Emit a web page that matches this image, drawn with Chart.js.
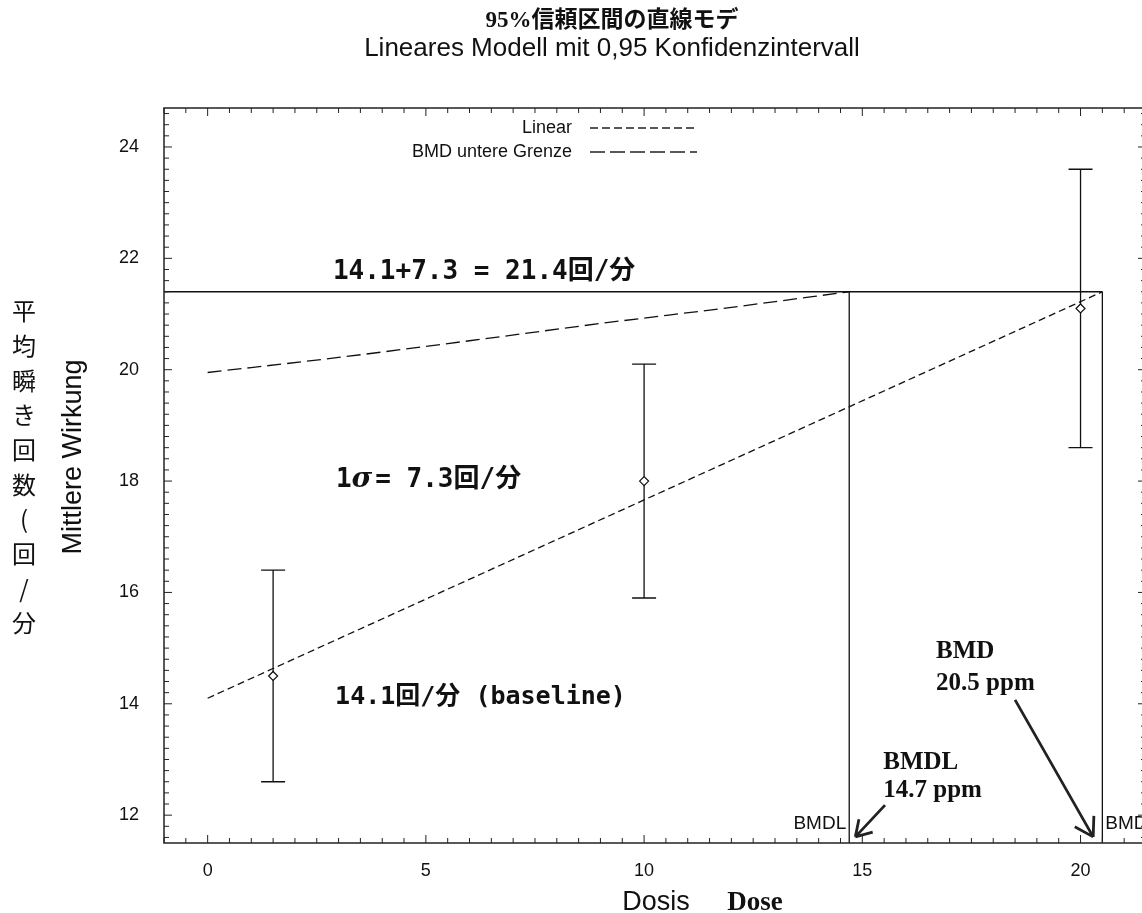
<!DOCTYPE html>
<html>
<head>
<meta charset="utf-8">
<script src="https://cdn.jsdelivr.net/npm/chart.js@4.4.0/dist/chart.umd.min.js"></script>
<style>
  html, body { margin: 0; padding: 0; background: #fff; overflow: hidden; }
  #wrap { position: absolute; left: 0; top: 0; width: 1160px; height: 913px; }
</style>
</head>
<body>
<div id="wrap"><canvas id="c" width="1160" height="913"></canvas></div>
<script>
// --- data ---
const doseMeans = [1.5, 10, 20];
const respMeans = [14.5, 18.0, 21.1];
const respLow   = [12.6, 15.9, 18.6];
const respHigh  = [16.4, 20.1, 23.6];

// linear fit
const linearX = [0, 20.5];
const linearY = [14.1, 21.4];

// BMD lower bound curve
const lowerX = [0, 3, 6, 9, 12, 14.7];
const lowerY = [19.95, 20.22, 20.52, 20.83, 21.12, 21.4];

const targetResp = 21.4;
const bmdDose = 20.5;
const bmdlDose = 14.7;

const xRange = [-1, 21.5];
const yRange = [11.5, 24.7];
const xTickValues = [0, 5, 10, 15, 20];
const yTickValues = [12, 14, 16, 18, 20, 22, 24];

const sans = '"Liberation Sans", Arial, sans-serif';
const serif = '"Liberation Serif", "Noto Sans CJK JP", serif';
const mono = '"DejaVu Sans Mono", "Noto Sans CJK JP", monospace';

const pts = (xs, ys) => xs.map((x, i) => ({ x: x, y: ys[i] }));

// frame, ticks, error bars, legend, texts
const decor = {
  id: 'decor',
  beforeDatasetsDraw(chart) {
    const ctx = chart.ctx, xs = chart.scales.x, ys = chart.scales.y;
    ctx.save();
    ctx.strokeStyle = '#111';
    ctx.lineWidth = 1.3;
    doseMeans.forEach((d, i) => {
      const px = xs.getPixelForValue(d);
      const lo = ys.getPixelForValue(respLow[i]);
      const hi = ys.getPixelForValue(respHigh[i]);
      ctx.beginPath();
      ctx.moveTo(px, lo); ctx.lineTo(px, hi);
      ctx.moveTo(px - 12, lo); ctx.lineTo(px + 12, lo);
      ctx.moveTo(px - 12, hi); ctx.lineTo(px + 12, hi);
      ctx.stroke();
    });
    ctx.restore();
  },
  afterDraw(chart) {
    const ctx = chart.ctx, xs = chart.scales.x, ys = chart.scales.y;
    const a = chart.chartArea;
    ctx.save();

    // frame
    ctx.strokeStyle = '#222';
    ctx.lineWidth = 1.5;
    ctx.strokeRect(a.left, a.top, a.right - a.left, a.bottom - a.top);

    // inward ticks on all four sides
    ctx.lineWidth = 1;
    ctx.beginPath();
    for (let v = -1; v <= 21.5 + 1e-6; v += 0.5) {
      const px = xs.getPixelForValue(v);
      const len = Math.abs(v % 5) < 1e-6 ? 8 : 5;
      ctx.moveTo(px, a.bottom); ctx.lineTo(px, a.bottom - len);
      ctx.moveTo(px, a.top); ctx.lineTo(px, a.top + len);
    }
    for (let k = 58; k <= 123; k++) {
      const py = ys.getPixelForValue(k / 5);
      const len = (k % 10 === 0) ? 8 : 5;
      ctx.moveTo(a.left, py); ctx.lineTo(a.left + len, py);
      ctx.moveTo(a.right, py); ctx.lineTo(a.right - len, py);
    }
    ctx.stroke();

    ctx.fillStyle = '#111';
    ctx.textBaseline = 'middle';

    // titles
    ctx.textAlign = 'center';
    ctx.font = 'bold 23px ' + serif;
    ctx.fillText('95%信頼区間の直線モデ', 612, 21);
    ctx.font = '26px ' + sans;
    ctx.fillText('Lineares Modell mit 0,95 Konfidenzintervall', 612, 49);

    // x axis title
    ctx.textBaseline = 'alphabetic';
    ctx.font = '27px ' + sans;
    ctx.fillText('Dosis', 656, 910);
    ctx.font = 'bold 27px ' + serif;
    ctx.fillText('Dose', 755, 910);
    ctx.textBaseline = 'middle';

    // y axis titles
    ctx.save();
    ctx.translate(74, 457);
    ctx.rotate(-Math.PI / 2);
    ctx.font = '27px ' + sans;
    ctx.fillText('Mittlere Wirkung', 0, 0);
    ctx.restore();
    ctx.font = '24px "Noto Sans CJK JP", sans-serif';
    Array.from('平均瞬き回数(回/分').forEach((ch, i) => {
      ctx.fillText(ch, 24, 311 + i * 34.7);
    });

    // legend
    ctx.textAlign = 'right';
    ctx.font = '18px ' + sans;
    ctx.fillText('Linear', 572, 128);
    ctx.fillText('BMD untere Grenze', 572, 152);
    ctx.lineWidth = 1.3;
    ctx.setLineDash([8, 4]);
    ctx.beginPath(); ctx.moveTo(590, 128); ctx.lineTo(697, 128); ctx.stroke();
    ctx.setLineDash([15, 5]);
    ctx.beginPath(); ctx.moveTo(590, 152); ctx.lineTo(697, 152); ctx.stroke();
    ctx.setLineDash([]);

    // annotations inside the plot
    const X = v => xs.getPixelForValue(v), Y = v => ys.getPixelForValue(v);
    ctx.textAlign = 'left';
    ctx.font = 'bold 26px ' + mono;
    ctx.fillText('14.1+7.3 = 21.4回/分', X(2.87), Y(21.75));
    ctx.font = 'bold 25px ' + mono;
    ctx.fillText('14.1回/分 (baseline)', X(2.92), Y(14.12));
    ctx.font = 'bold 26px ' + mono;
    let sx = X(2.94);
    const sy = Y(18.02);
    ctx.fillText('1', sx, sy);
    sx += ctx.measureText('1').width;
    ctx.font = 'italic bold 28px "DejaVu Serif", serif';
    ctx.fillText('σ', sx, sy);
    sx += ctx.measureText('σ').width + 3;
    ctx.font = 'bold 26px ' + mono;
    ctx.fillText('= 7.3回/分', sx, sy);

    ctx.font = 'bold 25px ' + serif;
    ctx.fillText('BMD', X(16.69), Y(14.93));
    ctx.fillText('20.5 ppm', X(16.69), Y(14.37));
    ctx.fillText('BMDL', X(15.48), Y(12.94));
    ctx.fillText('14.7 ppm', X(15.48), Y(12.45));

    ctx.font = '19px ' + sans;
    ctx.textAlign = 'right';
    ctx.fillText('BMDL', X(bmdlDose) - 3, Y(11.85));
    ctx.textAlign = 'left';
    ctx.fillText('BMD', X(bmdDose) + 3, Y(11.85));

    // arrows
    const arrow = (x1, y1, x2, y2, head) => {
      const p1 = [X(x1), Y(y1)], p2 = [X(x2), Y(y2)];
      const ang = Math.atan2(p2[1] - p1[1], p2[0] - p1[0]);
      ctx.lineWidth = 2.8;
      ctx.beginPath();
      ctx.moveTo(p1[0], p1[1]); ctx.lineTo(p2[0], p2[1]);
      [-0.55, 0.55].forEach(d => {
        ctx.moveTo(p2[0], p2[1]);
        ctx.lineTo(p2[0] - head * Math.cos(ang + d), p2[1] - head * Math.sin(ang + d));
      });
      ctx.stroke();
    };
    arrow(18.5, 14.07, 20.29, 11.61, 21);
    arrow(15.52, 12.18, 14.84, 11.61, 18);

    ctx.restore();
  }
};

new Chart(document.getElementById('c'), {
  type: 'scatter',
  data: {
    datasets: [
      {
        label: 'Mittelwerte',
        data: pts(doseMeans, respMeans),
        pointStyle: 'rectRot',
        pointRadius: 4.5,
        backgroundColor: '#fff',
        borderColor: '#111',
        borderWidth: 1.2
      },
      {
        label: 'Linear',
        data: pts(linearX, linearY),
        showLine: true,
        borderColor: '#111',
        borderWidth: 1.3,
        borderDash: [7, 4],
        pointRadius: 0
      },
      {
        label: 'BMD untere Grenze',
        data: pts(lowerX, lowerY),
        showLine: true,
        cubicInterpolationMode: 'monotone',
        borderColor: '#111',
        borderWidth: 1.3,
        borderDash: [14, 6],
        pointRadius: 0
      },
      {
        label: 'target',
        data: [{ x: xRange[0], y: targetResp }, { x: bmdDose, y: targetResp }],
        showLine: true,
        borderColor: '#111',
        borderWidth: 1.3,
        pointRadius: 0
      },
      {
        label: 'BMDL',
        data: [{ x: bmdlDose, y: targetResp }, { x: bmdlDose, y: yRange[0] }],
        showLine: true,
        borderColor: '#111',
        borderWidth: 1.3,
        pointRadius: 0
      },
      {
        label: 'BMD',
        data: [{ x: bmdDose, y: targetResp }, { x: bmdDose, y: yRange[0] }],
        showLine: true,
        borderColor: '#111',
        borderWidth: 1.3,
        pointRadius: 0
      }
    ]
  },
  options: {
    responsive: false,
    animation: false,
    devicePixelRatio: 1,
    layout: { padding: { left: 96, right: 14, top: 108, bottom: 0 } },
    plugins: { legend: { display: false }, tooltip: { enabled: false } },
    scales: {
      x: {
        type: 'linear',
        min: xRange[0],
        max: xRange[1],
        grid: { display: false, drawTicks: false },
        border: { display: false },
        afterBuildTicks(scale) { scale.ticks = xTickValues.map(v => ({ value: v })); },
        afterFit(scale) { scale.height = 70; },
        ticks: { color: '#111', padding: 17, font: { family: sans, size: 18 } }
      },
      y: {
        type: 'linear',
        min: yRange[0],
        max: yRange[1],
        grid: { display: false, drawTicks: false },
        border: { display: false },
        afterBuildTicks(scale) { scale.ticks = yTickValues.map(v => ({ value: v })); },
        afterFit(scale) { scale.width = 68; },
        ticks: { color: '#111', padding: 25, font: { family: sans, size: 18 } }
      }
    }
  },
  plugins: [decor]
});
</script>
</body>
</html>
